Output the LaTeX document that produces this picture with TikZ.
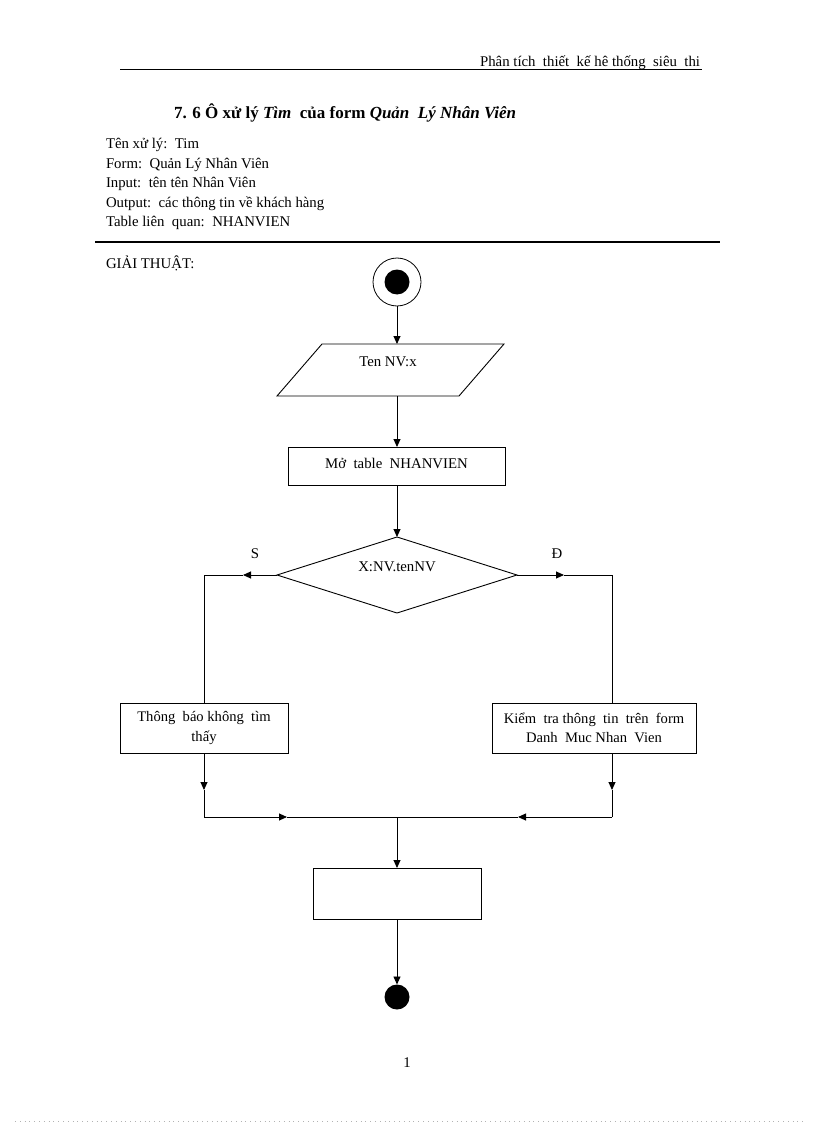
\documentclass[tikz,border=0pt]{standalone}
\usepackage{fontspec}
\setmainfont{Liberation Serif}
\usetikzlibrary{arrows.meta}
\begin{document}
\begin{tikzpicture}[x=1pt,y=-1pt,
  line width=0.9pt,
  every node/.style={inner sep=0pt,outer sep=0pt},
  txt/.style={font=\fontsize{14.8}{17}\selectfont,anchor=base west},
  box/.style={draw,rectangle,align=center,font=\fontsize{14.6}{19.5}\selectfont},
  arr/.style={-{Triangle[length=8pt,width=7pt]}},
  lbl/.style={font=\fontsize{14.8}{17}\selectfont}]
\useasboundingbox (0,0) rectangle (816,1123);
% header
\node[txt,anchor=base east] (hdr) at (700,67) {Phân tích\ \ thiết\ \ kế hê thống\ \ siêu\ \ thi};
\draw[line width=0.8pt] (120,69.5) -- (702,69.5);
\node[anchor=base west,font=\fontsize{17}{20}\selectfont\bfseries] (title) at (174,119)
  {7. 6 Ô xử lý \textit{Tìm}\ \ của form \textit{Quản\ \ Lý Nhân Viên}};
\node[txt] (i1) at (106,149) {Tên xử lý:\ \ Tim};
\node[txt] (i2) at (106,168.5) {Form:\ \ Quản Lý Nhân Viên};
\node[txt] (i3) at (106,188) {Input:\ \ tên tên Nhân Viên};
\node[txt] (i4) at (106,207.5) {Output:\ \ các thông tin về khách hàng};
\node[txt] (i5) at (106,227) {Table liên\ \ quan:\ \ NHANVIEN};
\draw[line width=1.3pt] (95,242) -- (720,242);
\node[txt] (gt) at (106,268) {GIẢI THUẬT:};
% start
\node[circle,draw,minimum size=48pt,line width=0.8pt] (start) at (397,282) {};
\node[circle,fill=black,minimum size=25pt] (startin) at (397,282) {};
% input parallelogram
\draw (322,344) -- (504,344) -- (459,396) -- (277,396) -- cycle;
\node[lbl] (inptxt) at (388,362) {Ten NV:x};
\coordinate (inpT) at (397,344);
\coordinate (inpB) at (397,396);
\draw[arr] (start) -- (inpT);
% open table
\node[box,minimum width=217pt,minimum height=38pt] (open) at (397,466) {};
\node[lbl] (opentxt) at (396.5,463) {Mở\ \ table\ \ NHANVIEN};
\draw[arr] (inpB) -- (open.north);
% diamond
\coordinate (dT) at (397,537);
\coordinate (dL) at (277,575);
\coordinate (dR) at (517,575);
\coordinate (dB) at (397,613);
\draw (dT) -- (dR) -- (dB) -- (dL) -- cycle;
\node[lbl] (dtxt) at (397,567) {X:NV.tenNV};
\draw[arr] (open.south) -- (dT);
\node[lbl] (S) at (255,554) {S};
\node[lbl] (D) at (557,554) {Đ};
% left branch
\node[box,minimum width=168pt,minimum height=50pt] (lbox) at (204,728) {Thông\ \ báo không\ \ tìm\\thấy};
\coordinate (la) at (243,575);
\coordinate (lc) at (204,575);
\draw[arr] (dL) -- (la);
\draw (la) -- (lc) -- (lbox.north);
% right branch
\node[box,minimum width=204pt,minimum height=50pt] (rbox) at (594,728) {Kiểm\ \ tra thông\ \ tin\ \ trên\ \ form\\Danh\ \ Muc Nhan\ \ Vien};
\coordinate (ra) at (564,575);
\coordinate (rc) at (612,575);
\coordinate (rt) at (612,703);
\draw[arr] (dR) -- (ra);
\draw (ra) -- (rc) -- (rt);
% merge
\coordinate (lm) at (204,790);
\coordinate (lj) at (204,817);
\coordinate (rb) at (612,753);
\coordinate (rm) at (612,790);
\coordinate (rj) at (612,817);
\coordinate (ma) at (287,817);
\coordinate (mb) at (518,817);
\coordinate (mj) at (397,817);
\draw[arr] (lbox.south) -- (lm);
\draw (lm) -- (lj);
\draw[arr] (rb) -- (rm);
\draw (rm) -- (rj);
\draw[arr] (lj) -- (ma);
\draw (ma) -- (mj);
\draw[arr] (rj) -- (mb);
\draw (mb) -- (mj);
% final box
\node[box,minimum width=168pt,minimum height=51pt] (fbox) at (397,893.5) {};
\draw[arr] (mj) -- (fbox.north);
\node[circle,fill=black,minimum size=25pt] (end) at (397,997) {};
\draw[arr] (fbox.south) -- (end.north);
% page number
\node[lbl] (pn) at (407,1063) {1};
\draw[gray!60,line width=0.5pt,dash pattern=on 0.8pt off 4pt] (15,1121.5) -- (803,1121.5);
\end{tikzpicture}
\end{document}
